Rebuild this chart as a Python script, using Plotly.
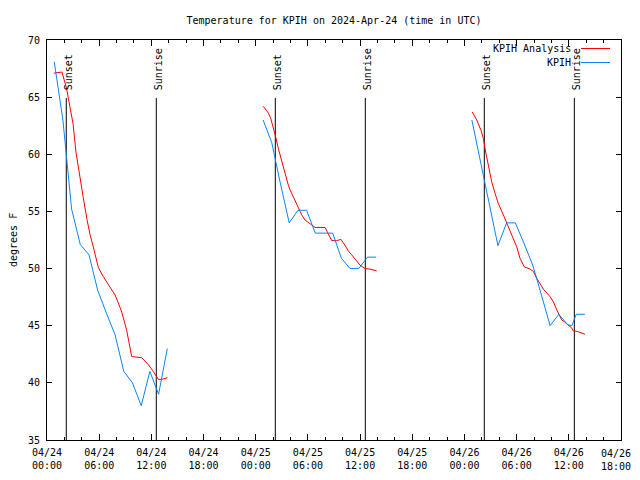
import pandas as pd
import plotly.graph_objects as go

BASE = pd.Timestamp("2024-04-24 00:00")

# Hours since 2024-04-24 00:00 UTC and temperatures (deg F)
red_h_1 = [0.80, 1.72, 2.24, 2.64, 2.99, 3.33, 3.79, 4.17, 4.60, 4.94, 5.32, 5.63, 5.90,
           6.47, 7.24, 7.82, 8.20, 8.59, 9.16, 9.74, 10.89, 11.65, 12.22, 12.80, 13.19, 13.83]
red_v_1 = [67.1, 67.2, 65.8, 64.3, 62.7, 60.2, 57.9, 56.2, 54.3, 53.0, 51.9, 50.8, 50.1,
           49.3, 48.4, 47.7, 47.0, 46.2, 44.6, 42.3, 42.2, 41.6, 41.0, 40.3, 40.3, 40.45]
red_h_2 = [24.87, 25.45, 25.72, 26.02, 26.30, 26.60, 26.99, 27.37, 27.75, 27.94, 28.32, 28.71,
           29.29, 29.67, 30.24, 30.82, 31.97, 32.34, 32.74, 33.31, 33.80, 34.26, 34.64, 35.04,
           35.50, 35.99, 36.56, 37.14, 37.91]
red_v_2 = [64.2, 63.6, 63.15, 62.4, 61.5, 60.5, 59.35, 58.3, 57.3, 56.9, 56.3, 55.6,
           54.7, 54.25, 53.95, 53.6, 53.6, 53.1, 52.45, 52.45, 52.55, 52.05, 51.55, 51.2,
           50.75, 50.3, 50.0, 49.95, 49.8]
red_h_3 = [48.90, 49.41, 49.90, 50.17, 50.44, 50.82, 51.13, 51.51, 51.89, 52.47, 52.86, 53.43,
           54.01, 54.39, 54.88, 55.54, 55.92, 56.31, 57.07, 57.84, 58.22, 58.61, 59.18, 59.48,
           60.33, 60.52, 60.98, 61.86]
red_v_3 = [63.7, 63.0, 62.1, 61.4, 60.2, 58.8, 57.6, 56.6, 55.7, 54.7, 54.0, 52.9,
           51.9, 50.9, 50.15, 49.95, 49.75, 49.15, 48.2, 47.55, 47.1, 46.4, 45.5, 45.35,
           44.8, 44.55, 44.5, 44.25]

blue_h_1 = [0.83, 1.83, 2.83, 3.83, 4.83, 5.83, 6.83, 7.83, 8.83, 9.83, 10.83, 11.83, 12.83, 13.83]
blue_v_1 = [68.1, 63.0, 55.2, 52.1, 51.2, 48.1, 46.1, 44.2, 41.0, 40.0, 38.0, 41.0, 39.0, 43.0]
blue_h_2 = [24.85, 25.85, 26.85, 27.85, 28.85, 29.85, 30.85, 31.85, 32.85, 33.85, 34.85, 35.85,
            36.85, 37.85]
blue_v_2 = [63.0, 61.0, 57.4, 54.0, 55.1, 55.1, 53.1, 53.1, 53.1, 50.9, 50.0, 50.0, 51.0, 51.0]
blue_h_3 = [48.85, 49.85, 50.85, 51.85, 52.85, 53.85, 54.85, 55.85, 56.85, 57.85, 58.85, 59.85,
            60.35, 60.85, 61.85]
blue_v_3 = [63.0, 59.3, 55.7, 52.0, 54.0, 54.0, 52.2, 50.3, 47.7, 45.0, 46.0, 45.1,
            45.0, 46.0, 46.0]

sunset_times = ["2024-04-24 02:13", "2024-04-25 02:15", "2024-04-26 02:17"]
sunrise_times = ["2024-04-24 12:34", "2024-04-25 12:36", "2024-04-26 12:38"]

tick_times = ["2024-04-24 00:00", "2024-04-24 06:00", "2024-04-24 12:00", "2024-04-24 18:00",
              "2024-04-25 00:00", "2024-04-25 06:00", "2024-04-25 12:00", "2024-04-25 18:00",
              "2024-04-26 00:00", "2024-04-26 06:00", "2024-04-26 12:00", "2024-04-26 18:00"]
tick_labels = ["04/24<br>00:00", "04/24<br>06:00", "04/24<br>12:00", "04/24<br>18:00",
               "04/25<br>00:00", "04/25<br>06:00", "04/25<br>12:00", "04/25<br>18:00",
               "04/26<br>00:00", "04/26<br>06:00", "04/26<br>12:00", "04/26<br>18:00"]

FONT = "DejaVu Sans Mono"
RED = "#ff0000"
BLUE = "#0a84ff"

# the page body keeps its default 8px margin; the figure is sized so the page is 640x480
OFF = 8
FIG_W, FIG_H = 640 - 2 * OFF, 480 - 2 * OFF


def join(segs_h, segs_v):
    xs, ys = [], []
    for h, v in zip(segs_h, segs_v):
        if xs:
            xs.append(None)
            ys.append(None)
        xs.extend(BASE + pd.to_timedelta(h, unit="h"))
        ys.extend(v)
    return xs, ys


rx, ry = join([red_h_1, red_h_2, red_h_3], [red_v_1, red_v_2, red_v_3])
bx, by = join([blue_h_1, blue_h_2, blue_h_3], [blue_v_1, blue_v_2, blue_v_3])

fig = go.Figure()
fig.add_trace(go.Scatter(x=rx, y=ry, mode="lines", name="KPIH Analysis",
                         line=dict(color=RED, width=1), connectgaps=False, showlegend=False))
fig.add_trace(go.Scatter(x=bx, y=by, mode="lines", name="KPIH",
                         line=dict(color=BLUE, width=1), connectgaps=False, showlegend=False))

shapes = []
annotations = []
for t, lab in [(s, "Sunset") for s in sunset_times] + [(s, "Sunrise") for s in sunrise_times]:
    shapes.append(dict(type="line", xref="x", yref="y", x0=t, x1=t, y0=35, y1=64.93,
                       line=dict(color="black", width=1), layer="below"))
    annotations.append(dict(x=t, y=65.45, xref="x", yref="y", text=lab, textangle=-90,
                            showarrow=False, xanchor="center", yanchor="bottom", xshift=2,
                            font=dict(family=FONT, size=10, color="black")))

L, R, T, B = 47, 621, 40, 440   # plot area in page pixels
W, H = R - L, B - T


def px(xp):
    return (xp - L) / W


def py(yp):
    return (B - yp) / H


# legend (gnuplot style: text to the left of the sample line)
for name, col, ypix in [("KPIH Analysis", RED, 48.5), ("KPIH", BLUE, 62.5)]:
    annotations.append(dict(x=px(573), y=py(ypix), xref="paper", yref="paper", text=name,
                            showarrow=False, xanchor="right", yanchor="middle",
                            font=dict(family=FONT, size=10, color="black")))
    shapes.append(dict(type="line", xref="paper", yref="paper", x0=px(581), x1=px(610),
                       y0=py(ypix), y1=py(ypix), line=dict(color=col, width=1)))

annotations.append(dict(x=px(13), y=py(240), xref="paper", yref="paper", text="degrees F",
                        textangle=-90, showarrow=False, xanchor="center", yanchor="middle",
                        font=dict(family=FONT, size=10, color="black")))

# last tick label sits at the page edge: drawn as a right-aligned note so it stays visible
shown_labels = tick_labels[:-1] + [""]
annotations.append(dict(x=px(640 - OFF), y=0, xref="paper", yref="paper", text=tick_labels[-1],
                        showarrow=False, xanchor="right", yanchor="top", yshift=-7,
                        borderpad=0, align="center",
                        font=dict(family=FONT, size=10, color="black")))

fig.update_layout(
    width=FIG_W, height=FIG_H,
    margin=dict(l=L - OFF, r=(640 - OFF) - R, t=T - OFF, b=(480 - OFF) - B, pad=0,
                autoexpand=False),
    paper_bgcolor="white", plot_bgcolor="white",
    font=dict(family=FONT, size=10, color="black"),
    title=dict(text="Temperature for KPIH on 2024-Apr-24 (time in UTC)", x=px(334), xanchor="center",
               y=1 - (20 - OFF) / FIG_H, yanchor="middle", xref="paper",
               font=dict(family=FONT, size=10, color="black")),
    shapes=shapes, annotations=annotations,
    showlegend=False,
)
fig.update_xaxes(
    type="date", range=["2024-04-24 00:00", "2024-04-26 18:00"],
    tickvals=tick_times, ticktext=shown_labels, automargin=False,
    showline=True, linecolor="black", linewidth=1, mirror="allticks",
    ticks="inside", ticklen=6, tickcolor="black", tickwidth=1,
    minor=dict(ticks="inside", ticklen=3, tickcolor="black", dtick=2 * 3600 * 1000,
               tick0="2024-04-24 00:00", showgrid=False),
    showgrid=False, zeroline=False, ticklabelstandoff=3,
    tickfont=dict(family=FONT, size=10, color="black"),
)
fig.update_yaxes(
    range=[35, 70], dtick=5, tick0=35, automargin=False,
    showline=True, linecolor="black", linewidth=1, mirror="allticks",
    ticks="inside", ticklen=5, tickcolor="black", tickwidth=1,
    showgrid=False, zeroline=False, ticklabelstandoff=4,
    tickfont=dict(family=FONT, size=10, color="black"),
)

fig.write_html("out.html", config={"displayModeBar": False})
